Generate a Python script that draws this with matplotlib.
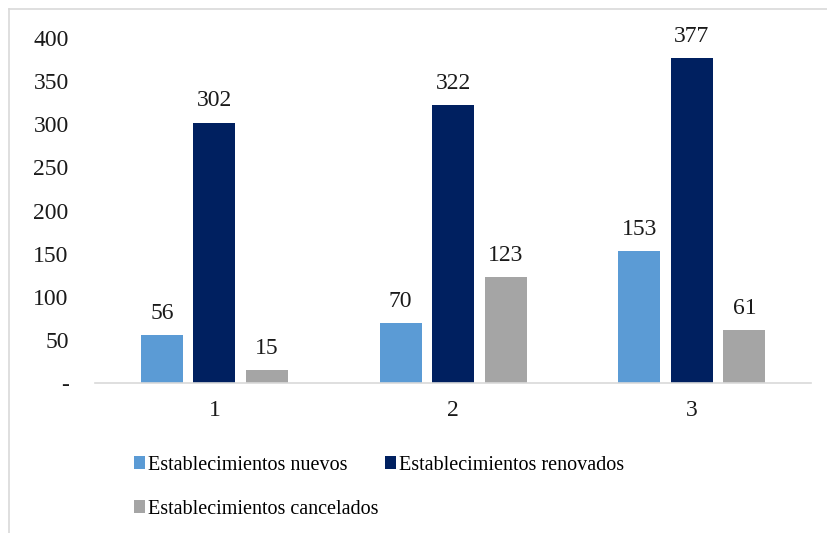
import numpy as np
import matplotlib.pyplot as plt
from matplotlib.lines import Line2D

plt.rcParams['font.family'] = ['Liberation Serif', 'DejaVu Serif']

groups = ['1', '2', '3']
nuevos = [56, 70, 153]
renovados = [302, 322, 377]
cancelados = [15, 123, 61]
series_names = ['Establecimientos nuevos', 'Establecimientos renovados',
                'Establecimientos cancelados']
colors = ['#5B9BD5', '#002060', '#A5A5A5']
y_ticks = [0, 50, 100, 150, 200, 250, 300, 350, 400]
y_tick_labels = ['-', '50', '100', '150', '200', '250', '300', '350', '400']

fig = plt.figure(figsize=(8.27, 5.33), dpi=100)
ax = fig.add_axes([0.115, 0.2814, 0.866, 0.6473])

x = np.arange(1, len(groups) + 1)
width = 0.176
step = 0.22
handles = []
for i, (vals, name, c) in enumerate(zip([nuevos, renovados, cancelados], series_names, colors)):
    pos = x + (i - 1) * step
    bars = ax.bar(pos, vals, width, color=c, label=name, zorder=2)
    handles.append(bars)
    for b, v in zip(bars, vals):
        ax.annotate(str(v), (b.get_x() + b.get_width() / 2, v),
                    xytext=(0, 8), textcoords='offset points',
                    ha='center', va='bottom', fontsize=17, color='#1a1a1a')

ax.set_xlim(0.5, 3.5)
ax.set_ylim(0, 400)
ax.set_xticks(x)
ax.set_xticklabels(groups)
ax.set_yticks(y_ticks)
ax.set_yticklabels(y_tick_labels)
ax.tick_params(axis='both', length=0, labelsize=17, colors='#1a1a1a')
ax.tick_params(axis='x', pad=12)
ax.tick_params(axis='y', pad=19)
for s in ['top', 'right', 'left']:
    ax.spines[s].set_visible(False)
ax.spines['bottom'].set_color('#D9D9D9')
ax.spines['bottom'].set_linewidth(1.2)

# legend fills column-wise, so reorder to get row-wise layout
order = [0, 2, 1]
fig.legend([handles[k] for k in order], [series_names[k] for k in order],
           loc='upper left', bbox_to_anchor=(0.162, 0.145), ncol=2,
           frameon=False, fontsize=14.5, handlelength=0.55, handleheight=0.6,
           handletextpad=0.15, columnspacing=0.3, labelspacing=1.25,
           borderaxespad=0, borderpad=0)

# outer chart frame
fig.add_artist(Line2D([0.011, 0.011], [0, 0.983], color='#D9D9D9', lw=1.2,
                      transform=fig.transFigure))
fig.add_artist(Line2D([0.011, 1], [0.983, 0.983], color='#D9D9D9', lw=1.2,
                      transform=fig.transFigure))

fig.savefig('out.png', dpi=100)
